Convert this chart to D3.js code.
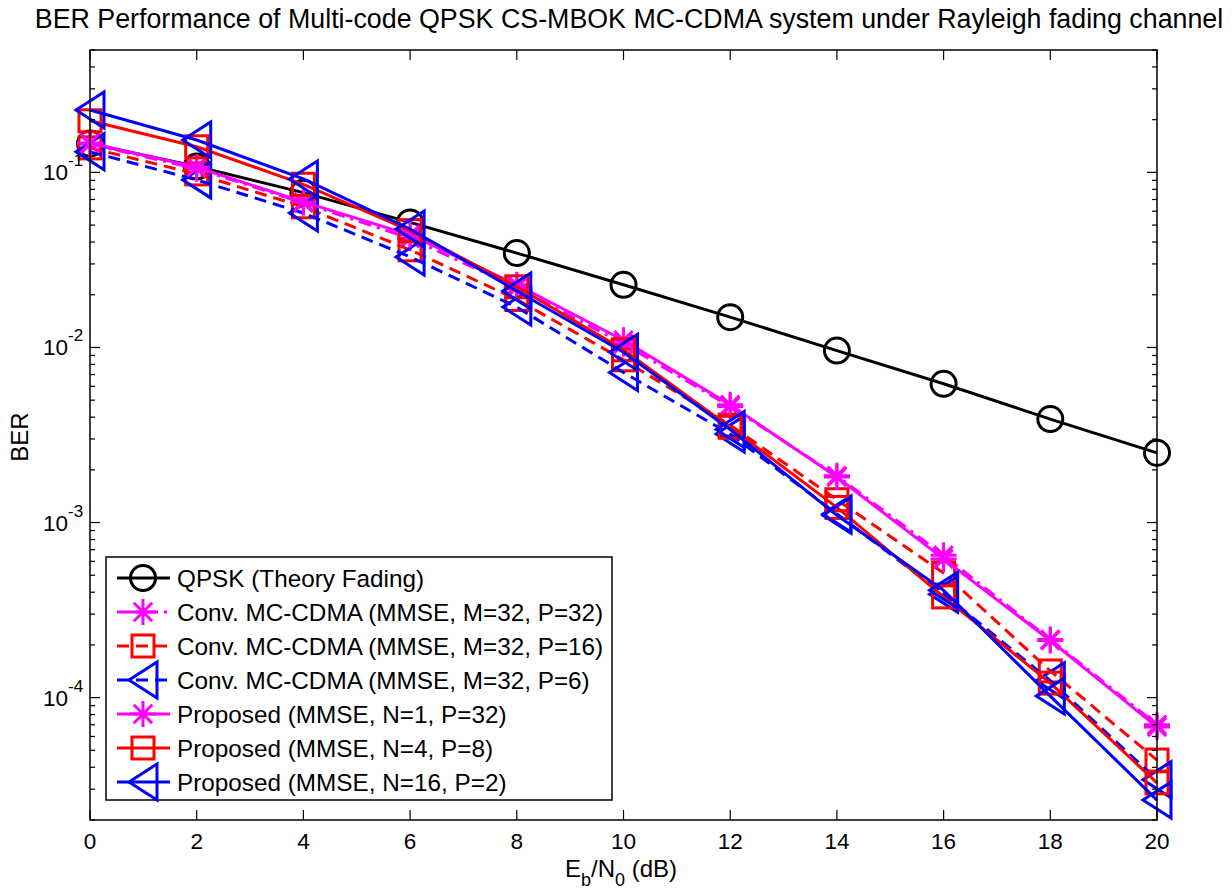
<!DOCTYPE html>
<html>
<head>
<meta charset="utf-8">
<script src="https://cdn.jsdelivr.net/npm/d3@7"></script>
<style>
  body { margin: 0; background: #fff; }
  svg { font-family: "Liberation Sans", Arial, sans-serif; }
</style>
</head>
<body>
<svg id="chart" width="1232" height="895"></svg>
<script>
// Eb/N0 points (dB)
const ebno = [0, 2, 4, 6, 8, 10, 12, 14, 16, 18, 20];

// BER values
const qpskTheory = [0.146, 0.108, 0.0766, 0.0518, 0.0346, 0.0228, 0.0149, 0.0096, 0.0062, 0.0039, 0.0025];
const convP32 = [0.145, 0.105, 0.067, 0.042, 0.022, 0.0105, 0.0046, 0.00185, 0.00065, 0.000215, 0.00007];
const convP16 = [0.138, 0.098, 0.0636, 0.0361, 0.0188, 0.0085, 0.0036, 0.00135, 0.000515, 0.000142, 0.000044];
const convP6 = [0.131, 0.0906, 0.0586, 0.0329, 0.017, 0.0072, 0.0032, 0.00112, 0.00039, 0.000125, 0.000034];
const propN1 = [0.147, 0.107, 0.0678, 0.044, 0.0228, 0.011, 0.0047, 0.00182, 0.00062, 0.000212, 0.000068];
const propN4 = [0.197, 0.14, 0.0855, 0.0465, 0.0222, 0.0097, 0.0035, 0.00122, 0.000376, 0.000121, 0.0000326];
const propN16 = [0.227, 0.153, 0.0917, 0.0475, 0.021, 0.0094, 0.0034, 0.0011, 0.00041, 0.000102, 0.000026];

const xTicks = [0, 2, 4, 6, 8, 10, 12, 14, 16, 18, 20];
const yExponents = [-1, -2, -3, -4];

const labels = [
  "QPSK (Theory Fading)",
  "Conv. MC-CDMA (MMSE, M=32, P=32)",
  "Conv. MC-CDMA (MMSE, M=32, P=16)",
  "Conv. MC-CDMA (MMSE, M=32, P=6)",
  "Proposed (MMSE, N=1, P=32)",
  "Proposed (MMSE, N=4, P=8)",
  "Proposed (MMSE, N=16, P=2)"
];

let series = [
  {name: labels[0], values: qpskTheory, color: "#000000", dash: null, marker: "circle"},
  {name: labels[1], values: convP32, color: "#ff00ff", dash: "13 6 3 6", marker: "star"},
  {name: labels[2], values: convP16, color: "#ff0000", dash: "12 7", marker: "square"},
  {name: labels[3], values: convP6, color: "#0000ff", dash: "12 7", marker: "triangle"},
  {name: labels[4], values: propN1, color: "#ff00ff", dash: null, marker: "star"},
  {name: labels[5], values: propN4, color: "#ff0000", dash: null, marker: "square"},
  {name: labels[6], values: propN16, color: "#0000ff", dash: null, marker: "triangle"}
];

let svg = d3.select("#chart");
let pLeft = 90, pRight = 1157, pTop = 50, pBottom = 820;

let x = d3.scaleLinear().domain([0, 20]).range([pLeft, pRight]);
let y = d3.scaleLog().domain([2e-5, 0.5]).range([pBottom, pTop]);

// marker shapes drawn around (0,0)
function drawMarker(g, type, color) {
  g.attr("fill", "none").attr("stroke", color).attr("stroke-width", 3);
  if (type == "circle") {
    g.append("circle").attr("r", 12.5);
  } else if (type == "square") {
    g.append("rect").attr("x", -11).attr("y", -11).attr("width", 22).attr("height", 22);
  } else if (type == "triangle") {
    g.append("path").attr("d", "M-14,0L14,-18L14,18Z").attr("stroke-linejoin", "miter");
  } else if (type == "star") {
    let r = 13, d = r * 0.7071;
    g.append("path")
      .attr("d", `M${-r},0H${r}M0,${-r}V${r}M${-d},${-d}L${d},${d}M${-d},${d}L${d},${-d}`);
  }
}

// title
svg.append("text")
  .attr("x", 629).attr("y", 28)
  .attr("text-anchor", "middle")
  .style("font-size", "26.8px")
  .text("BER Performance of Multi-code QPSK CS-MBOK MC-CDMA system under Rayleigh fading channel");

let plot = svg.append("g");

let line = d3.line().x((d, i) => x(ebno[i])).y(d => y(d));

series.forEach(function(s) {
  let g = plot.append("g");
  g.append("path")
    .attr("d", line(s.values))
    .attr("fill", "none")
    .attr("stroke", s.color)
    .attr("stroke-width", 3)
    .attr("stroke-dasharray", s.dash);
  g.selectAll("g.mk")
    .data(s.values)
    .join("g")
    .attr("class", "mk")
    .attr("transform", (d, i) => `translate(${x(ebno[i])},${y(d)})`)
    .each(function() { drawMarker(d3.select(this), s.marker, s.color); });
});

// axes box
let ax = svg.append("g").attr("stroke", "#000");
ax.append("rect")
  .attr("x", pLeft).attr("y", pTop)
  .attr("width", pRight - pLeft).attr("height", pBottom - pTop)
  .attr("fill", "none").attr("stroke-width", 1.5);

// x ticks (inside, bottom and top)
xTicks.forEach(function(t) {
  ax.append("line").attr("x1", x(t)).attr("x2", x(t)).attr("y1", pBottom).attr("y2", pBottom - 10).attr("stroke-width", 1.2);
  ax.append("line").attr("x1", x(t)).attr("x2", x(t)).attr("y1", pTop).attr("y2", pTop + 10).attr("stroke-width", 1.2);
});
svg.selectAll("text.xt")
  .data(xTicks)
  .join("text")
  .attr("class", "xt")
  .attr("x", d => x(d)).attr("y", 849)
  .attr("text-anchor", "middle")
  .style("font-size", "22.5px")
  .text(d => d);

// y ticks: major and minor
let minors = [];
for (let e = -5; e <= -1; e++) {
  for (let k = 2; k <= 9; k++) {
    let v = k * Math.pow(10, e);
    if (v >= 2e-5 && v <= 0.5) minors.push(v);
  }
}
yExponents.forEach(function(e) {
  let v = Math.pow(10, e);
  ax.append("line").attr("x1", pLeft).attr("x2", pLeft + 10).attr("y1", y(v)).attr("y2", y(v)).attr("stroke-width", 1.2);
  ax.append("line").attr("x1", pRight).attr("x2", pRight - 10).attr("y1", y(v)).attr("y2", y(v)).attr("stroke-width", 1.2);
});
minors.forEach(function(v) {
  ax.append("line").attr("x1", pLeft).attr("x2", pLeft + 5).attr("y1", y(v)).attr("y2", y(v)).attr("stroke-width", 1.2);
  ax.append("line").attr("x1", pRight).attr("x2", pRight - 5).attr("y1", y(v)).attr("y2", y(v)).attr("stroke-width", 1.2);
});

svg.selectAll("text.yt")
  .data(yExponents)
  .join("text")
  .attr("class", "yt")
  .attr("x", 68).attr("y", e => y(Math.pow(10, e)) + 8)
  .attr("text-anchor", "end")
  .style("font-size", "22.5px")
  .text("10");
svg.selectAll("text.ye")
  .data(yExponents)
  .join("text")
  .attr("class", "ye")
  .attr("x", 68).attr("y", e => y(Math.pow(10, e)) - 6)
  .style("font-size", "17px")
  .text(e => "-" + Math.abs(e));

// axis labels
svg.append("text")
  .attr("transform", "translate(28,437) rotate(-90)")
  .attr("text-anchor", "middle")
  .style("font-size", "24px")
  .text("BER");

let xl = svg.append("text")
  .attr("x", 621).attr("y", 877)
  .attr("text-anchor", "middle")
  .style("font-size", "24px");
xl.append("tspan").text("E");
xl.append("tspan").attr("dy", 9).style("font-size", "18px").text("b");
xl.append("tspan").attr("dy", -9).text("/N");
xl.append("tspan").attr("dy", 9).style("font-size", "18px").text("0");
xl.append("tspan").attr("dy", -9).text(" (dB)");

// legend
let lg = svg.append("g");
lg.append("rect")
  .attr("x", 106).attr("y", 557).attr("width", 506).attr("height", 243)
  .attr("fill", "#fff").attr("stroke", "#000").attr("stroke-width", 1.5);

let rowY = d3.scaleLinear().domain([0, 6]).range([578, 782]);
series.forEach(function(s, i) {
  let row = lg.append("g").attr("transform", `translate(0,${rowY(i)})`);
  row.append("line")
    .attr("x1", 117).attr("x2", 170)
    .attr("stroke", s.color).attr("stroke-width", 3)
    .attr("stroke-dasharray", s.dash);
  let m = row.append("g").attr("transform", "translate(143,0)");
  drawMarker(m, s.marker, s.color);
  row.append("text")
    .attr("x", 177).attr("y", 8.5)
    .style("font-size", "24.3px")
    .text(s.name);
});
</script>
</body>
</html>
